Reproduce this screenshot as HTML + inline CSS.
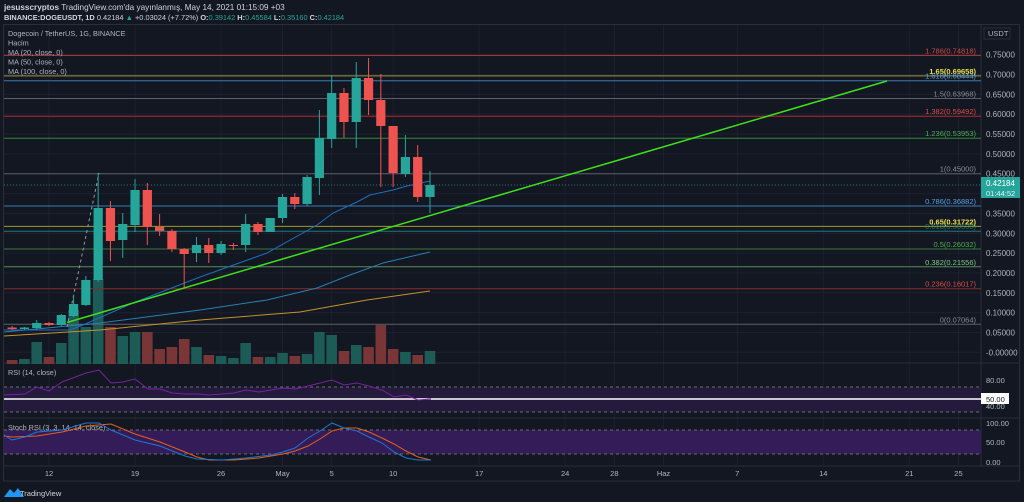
<!DOCTYPE html>
<html><head><meta charset="utf-8"><style>
html,body{margin:0;padding:0;background:#131722;width:1024px;height:502px;overflow:hidden;font-family:"Liberation Sans",sans-serif}
svg text{font-family:"Liberation Sans",sans-serif}
</style></head><body>
<svg id="s" width="1024" height="502" xmlns="http://www.w3.org/2000/svg">
<rect width="1024" height="502" fill="#131722"/>
<text x="4" y="10" font-size="8.2" fill="#d1d4dc"><tspan font-weight="bold">jesusscryptos</tspan> TradingView.com'da yayınlanmış, May 14, 2021 01:15:09 +03</text>
<text x="4" y="20" font-size="7.4" fill="#d1d4dc" font-weight="bold">BINANCE:DOGEUSDT, 1D <tspan font-weight="normal">0.42184 </tspan><tspan fill="#26a69a">▲</tspan><tspan font-weight="normal"> +0.03024 (+7.72%) </tspan>O:<tspan fill="#26a69a" font-weight="normal">0.39142</tspan> H:<tspan fill="#26a69a" font-weight="normal">0.45584</tspan> L:<tspan fill="#26a69a" font-weight="normal">0.35160</tspan> C:<tspan fill="#26a69a" font-weight="normal">0.42184</tspan></text>
<rect x="3.5" y="24.5" width="1016" height="456.5" fill="none" stroke="#2a2e39"/>
<g id="g"></g>
</svg>
<script>
const NS="http://www.w3.org/2000/svg",g=document.getElementById('g');
function el(t,a,txt){const e=document.createElementNS(NS,t);for(const k in a)e.setAttribute(k,a[k]);if(txt!=null)e.textContent=txt;g.appendChild(e);return e;}
const X=d=>49+(d-12)*12.29;
const ticks=[[12,'12'],[19,'19'],[26,'26'],[31,'May'],[35,'5'],[40,'10'],[47,'17'],[54,'24'],[58,'28'],[62,'Haz'],[68,'7'],[75,'14'],[82,'21'],[86,'25']];
ticks.forEach(([d,l])=>{const x=X(d);el('line',{x1:x,x2:x,y1:25,y2:465,stroke:'#1c2030'});el('text',{x:x,y:476,'font-size':7.5,fill:'#b2b5be','text-anchor':'middle'},l);});
const PY=p=>352.3-p*396.8;
for(let i=0;i<=15;i++){const y=PY(i*0.05);el('line',{x1:4,x2:981,y1:y,y2:y,stroke:'#1c2030'});el('text',{x:986,y:y+3,'font-size':8,fill:'#b2b5be'},(i==0?'-':'')+(i*0.05).toFixed(5));}
el('line',{x1:4,x2:1020,y1:363,y2:363,stroke:'#2a2e39'});
el('line',{x1:4,x2:1020,y1:418,y2:418,stroke:'#2a2e39'});
el('line',{x1:4,x2:1020,y1:466,y2:466,stroke:'#2a2e39'});
el('line',{x1:981,x2:981,y1:25,y2:466,stroke:'#2a2e39'});
el('rect',{x:4,y:387,width:977,height:25,fill:'#231a3c'});
el('line',{x1:4,x2:981,y1:387,y2:387,stroke:'#6a6d78','stroke-dasharray':'3,3'});
el('line',{x1:4,x2:981,y1:412,y2:412,stroke:'#6a6d78','stroke-dasharray':'3,3'});
el('line',{x1:4,x2:981,y1:399,y2:399,stroke:'#ffffff','stroke-width':1.5});
el('text',{x:8,y:375,'font-size':7.3,fill:'#b2b5be'},'RSI (14, close)');
el('text',{x:986,y:383,'font-size':7.5,fill:'#b2b5be'},'80.00');
el('text',{x:986,y:409,'font-size':7.5,fill:'#b2b5be'},'40.00');
el('rect',{x:981,y:393,width:28,height:11,fill:'#ffffff'});
el('text',{x:986,y:402,'font-size':7.5,fill:'#131722'},'50.00');
const rsi=[[4,395],[25,394],[37,387],[49,391],[62,382],[86,373],[99,370],[111,383],[123,382],[135,379],[148,389],[160,389],[172,393],[185,394],[197,394],[209,395],[222,394],[234,393],[246,390],[259,392],[271,390],[283,388],[295,389],[308,386],[320,383],[332,380],[344,385],[357,383],[369,386],[382,390],[394,397],[406,395],[418,400],[431,399]];
el('polyline',{points:rsi.join(' '),fill:'none',stroke:'#7b1fa2','stroke-width':1});
el('rect',{x:4,y:430,width:977,height:24,fill:'#331c58'});
el('line',{x1:4,x2:981,y1:430,y2:430,stroke:'#6a6d78','stroke-dasharray':'3,3'});
el('line',{x1:4,x2:981,y1:454,y2:454,stroke:'#6a6d78','stroke-dasharray':'3,3'});
el('text',{x:8,y:430,'font-size':7.3,fill:'#b2b5be'},'Stoch RSI (3, 3, 14, 14, close)');
[['100.00',426],['50.00',445],['0.00',465]].forEach(([t,y])=>el('text',{x:986,y:y,'font-size':7.5,fill:'#b2b5be'},t));
const sk=[[4,435],[12,440],[25,437],[37,432],[62,430],[86,423],[99,423],[111,430],[135,440],[160,446],[185,456],[197,459],[222,460],[246,458],[271,455],[283,452],[295,448],[308,438],[320,431],[332,423],[344,428],[357,431],[369,437],[382,443],[394,452],[406,458],[418,460],[431,460]];
const sd=[[4,436],[12,437],[37,436],[62,432],[86,426],[111,424],[135,434],[160,442],[185,452],[197,457],[209,460],[234,460],[259,458],[283,454],[295,451],[308,446],[320,439],[332,431],[344,428],[357,428],[369,432],[382,438],[394,444],[406,451],[418,457],[431,460]];
el('polyline',{points:sd.join(' '),fill:'none',stroke:'#e65f1e','stroke-width':1});
el('polyline',{points:sk.join(' '),fill:'none',stroke:'#1e78d2','stroke-width':1});
const vol=[[9,360,0],[10,359,1],[11,342,1],[12,357,0],[13,343,1],[14,310,1],[15,327,1],[16,279,1],[17,327,0],[18,336,1],[19,332,1],[20,332,0],[21,349,0],[22,347,0],[23,339,0],[24,347,1],[25,355,0],[26,356,1],[27,358,1],[28,343,1],[29,357,0],[30,357,1],[31,353,1],[32,356,0],[33,354,1],[34,332,1],[35,335,1],[36,351,0],[37,345,1],[38,347,0],[39,325,0],[40,349,0],[41,352,1],[42,355,0],[43,351,1]];
vol.forEach(([d,t,c])=>{const x=X(d);el('rect',{x:Math.max(4,x-5.3),y:t,width:10.6,height:364-t,fill:c?'#1d5b57':'#7a3536'});});
const fib=[['1.786(0.74818)',0.74818,'#b23a3a','#c94a4a'],['1.65(0.69658)',0.69658,'#9a9a3a','#e8e04a'],['1.618(0.68444)',0.68444,'#3a7ab0','#5aa0e0'],['1.5(0.63968)',0.63968,'#5d606b','#8a8d96'],['1.382(0.59492)',0.59492,'#b22a2a','#e04a4a'],['1.236(0.53953)',0.53953,'#2e8b3a','#4caf50'],['1(0.45000)',0.45,'#5d606b','#8a8d96'],['0.786(0.36882)',0.36882,'#3a7ab0','#5aa0e0'],['0.65(0.31722)',0.31722,'#9a9a2a','#e8e04a'],['0.618(0.30508)',0.30508,'#1e7a78',null],['0.5(0.26032)',0.26032,'#3a7a3a','#4caf50'],['0.382(0.21556)',0.21556,'#5a8a5a','#81c784'],['0.236(0.16017)',0.16017,'#8a2a2a','#e04a4a'],['0(0.07064)',0.07064,'#5d606b','#8a8d96']];
fib.forEach(([l,p,c,tc])=>{const y=PY(p);el('line',{x1:4,x2:981,y1:y,y2:y,stroke:c,'stroke-width':1});if(tc)el('text',{x:976,y:y-2,'font-size':7.5,fill:tc,'text-anchor':'end','font-weight':l.startsWith('1.65')||l.startsWith('0.65')?'bold':'normal'},l);});
el('text',{x:976,y:PY(0.30508)-2,'font-size':7.5,fill:'#26a69a','text-anchor':'end','opacity':0.6},'0.618(0.30508)');
el('line',{x1:4,x2:981,y1:185,y2:185,stroke:'#26a69a','stroke-dasharray':'1,2',opacity:0.7});
el('polyline',{points:'4,336 100,330 200,320 300,312 367,300 430,291',fill:'none',stroke:'#c8902a','stroke-width':1});
el('polyline',{points:'4,332 100,323 200,310 267,300 317,288 350,275 383,263 430,252',fill:'none',stroke:'#2a7fb0','stroke-width':1});
el('polyline',{points:'4,330 70,330 83,325 133,303 200,277 267,253 317,225 333,213 357,202 370,195 393,190 407,186 430,181',fill:'none',stroke:'#1e6fc0','stroke-width':1});
el('line',{x1:67,y1:327,x2:99,y2:173,stroke:'#9598a1','stroke-dasharray':'3,3'});
const C=[[9,327.5,329,326,330],[10,329,327.5,327,330],[11,328,323,320,329],[12,323,325,322,326],[13,325,315,314,326],[14,316,304,295,317],[15,305,280,276,306],[16,280,208,173,282],[17,208,241,201,261],[18,240,224,213,258],[19,225,190,179,232],[20,190,227,183,245],[21,227,231,214,236],[22,231,249,229,252],[23,249,254,248,288],[24,253,245,237,262],[25,245,253,238,263],[26,253,244,241,255],[27,245,245.5,243,250],[28,245,224,214,252],[29,224,232,222,235],[30,232,218,218,232],[31,218,197,194,223],[32,197,204,193,209],[33,204,177,175,206],[34,178,138,110,195],[35,139,93,75,148],[36,93,122,88,138],[37,122,78,62,148],[38,78,100,58,115],[39,100,126,74,187],[40,126,173,126,187],[41,174,157,135,177],[42,157,197,145,202],[43,197,185,171,213]];
C.forEach(([d,o,c,h,l])=>{const x=X(d),up=c<=o,col=up?'#26a69a':'#ef5350';el('line',{x1:x,x2:x,y1:h,y2:l,stroke:col});el('rect',{x:x-4.6,y:Math.min(o,c),width:9.2,height:Math.max(1,Math.abs(o-c)),fill:col});});
el('line',{x1:67,y1:322.5,x2:887,y2:81,stroke:'#3fe01a','stroke-width':1.5});
[['Dogecoin / TetherUS, 1G, BINANCE',36],['Hacim',45.5],['MA (20, close, 0)',55],['MA (50, close, 0)',64.5],['MA (100, close, 0)',74]].forEach(([t,y])=>el('text',{x:8,y:y,'font-size':7.3,fill:'#b2b5be'},t));
el('rect',{x:981,y:177,width:39,height:21,fill:'#26a69a'});
el('text',{x:986,y:186,'font-size':8,fill:'#fff'},'0.42184');
el('text',{x:986,y:196,'font-size':7.5,fill:'#e0f2f1'},'01:44:52');
el('rect',{x:984,y:28,width:26,height:11,fill:'none',stroke:'#2a2e39'});
el('text',{x:988,y:36,'font-size':7.5,fill:'#b2b5be'},'USDT');
el('path',{d:'M4,497 L10,489 L14,493 L18,488 L24,497 Z',fill:'#2196f3'});
el('text',{x:20,y:496,'font-size':7.5,fill:'#d1d4dc'},'TradingView');
</script>
</body></html>
